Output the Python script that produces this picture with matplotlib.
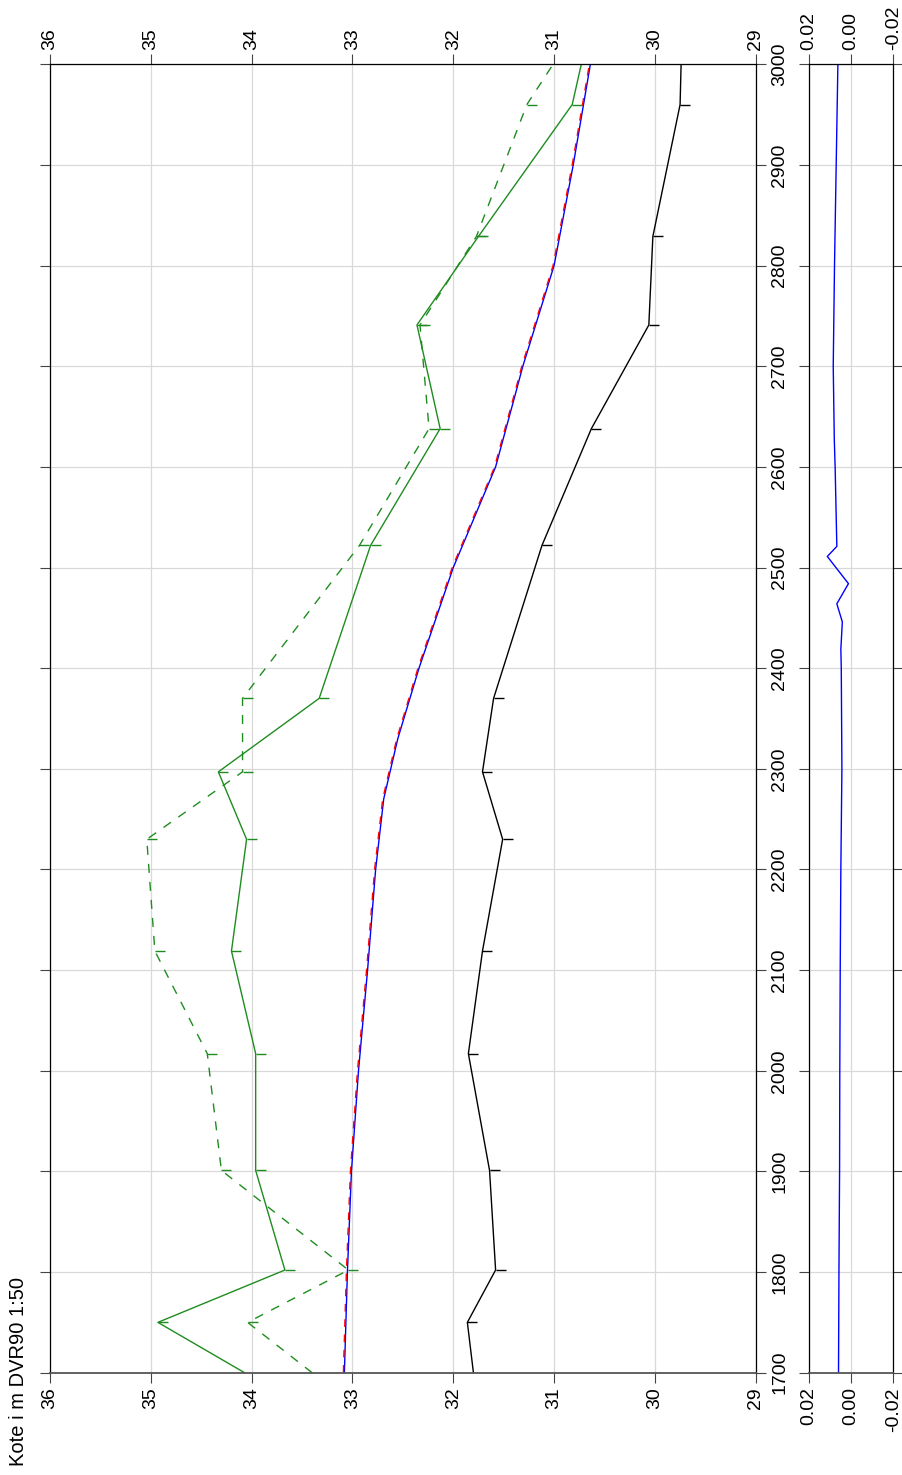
import matplotlib
matplotlib.use('Agg')
import matplotlib.pyplot as plt

plt.rcParams['font.family'] = ['Liberation Sans', 'DejaVu Sans']

# ---------------- data ----------------
stations = [1700, 1750, 1802, 1901, 2017, 2119, 2230, 2297, 2370, 2522, 2638, 2741, 2829, 2960, 3000]
bottom_level = [31.80, 31.86, 31.58, 31.64, 31.85, 31.71, 31.51, 31.71, 31.60, 31.12, 30.63, 30.06, 30.02, 29.75, 29.74]
bank_solid = [34.07, 34.93, 33.67, 33.96, 33.96, 34.20, 34.05, 34.33, 33.33, 32.82, 32.13, 32.36, 31.75, 30.82, 30.73]
bank_dashed = [33.40, 34.04, 33.04, 34.30, 34.44, 34.96, 35.04, 34.09, 34.09, 32.93, 32.24, 32.33, 31.77, 31.27, 31.01]

wl_stations = [1700, 1800, 1900, 2000, 2100, 2200, 2270, 2300, 2330, 2400, 2500, 2600, 2670, 2700, 2800, 2900, 3000]
wl_blue = [33.08, 33.05, 33.01, 32.94, 32.85, 32.77, 32.69, 32.62, 32.55, 32.34, 32.00, 31.58, 31.39, 31.31, 31.00, 30.81, 30.64]
wl_red = [33.09, 33.06, 33.02, 32.95, 32.86, 32.78, 32.70, 32.63, 32.56, 32.35, 32.01, 31.59, 31.40, 31.32, 31.01, 30.82, 30.65]

diff_stations = [1700, 1800, 1900, 2000, 2100, 2200, 2300, 2400, 2419, 2446, 2464, 2484, 2511, 2521, 2600, 2627, 2700, 2800, 2900, 3000]
diff_values = [0.0059, 0.0057, 0.0054, 0.0053, 0.0051, 0.0048, 0.0043, 0.0046, 0.0048, 0.0041, 0.0067, 0.0012, 0.0112, 0.0067, 0.0075, 0.0079, 0.0084, 0.0078, 0.0070, 0.0062]

kote_ticks = [29, 30, 31, 32, 33, 34, 35, 36]
kote_labels = ['29', '30', '31', '32', '33', '34', '35', '36']
station_ticks = list(range(1700, 3001, 100))
station_labels = [str(s) for s in station_ticks]
diff_ticks = [0.02, 0.0, -0.02]
diff_labels = ['0.02', '0.00', '-0.02']
ylabel_text = 'Kote i m DVR90 1:50'

# ---------------- layout ----------------
W, H = 902, 1475
fig = plt.figure(figsize=(W / 100, H / 100), dpi=100)


def fx(px):
    return px / W


def fy(py):
    return 1 - py / H


y_top, y_bot = 64.3, 1372.7
ax = fig.add_axes([fx(50), fy(y_bot), fx(755.7) - fx(50), fy(y_top) - fy(y_bot)])
axd = fig.add_axes([fx(808.7), fy(y_bot), fx(893.3) - fx(808.7), fy(y_top) - fy(y_bot)])

green = '#1f8c1f'
grid_col = '#d9d9d9'
tick_col = '#444444'
LW = 1.0
dash = (6.5, 6.5)
FS = 14

# ---------------- main panel ----------------
ax.plot(bottom_level, stations, color='black', lw=LW, marker=1, markersize=7.2,
        markeredgewidth=1.0, markevery=slice(1, -1))
ax.plot(bank_solid, stations, color=green, lw=LW, marker=1, markersize=7.2,
        markeredgewidth=1.0, markevery=slice(1, -1))
ax.plot(bank_dashed, stations, color=green, lw=LW, dashes=dash, marker=1, markersize=7.2,
        markeredgewidth=1.0, markevery=slice(1, -1))
ax.plot(wl_blue, wl_stations, color='#0000ff', lw=LW)
ax.plot(wl_red, wl_stations, color='#ff0000', lw=LW, dashes=(5.5, 5.5))

ax.set_xlim(36, 29)
ax.set_ylim(1700, 3000)
ax.set_xticks(kote_ticks)
ax.set_xticklabels(kote_labels)
ax.set_yticks(station_ticks)
ax.set_yticklabels(station_labels)
ax.set_axisbelow(True)
ax.grid(True, color=grid_col, lw=0.9)

ax.tick_params(axis='x', which='both', direction='out', length=7.2, width=0.8, color=tick_col,
               top=True, bottom=True, labeltop=True, labelbottom=True, labelsize=FS,
               labelrotation=90, pad=3.4)
ax.tick_params(axis='y', which='both', direction='out', length=7.2, width=0.8, color=tick_col,
               left=True, right=True, labelleft=False, labelright=True, labelsize=FS,
               labelrotation=90, pad=4.0)
for t in ax.yaxis.get_major_ticks():
    t.label2.set_va('center')
for t in ax.xaxis.get_major_ticks():
    t.label1.set_va('top')
    t.label2.set_va('bottom')

for s in ['top', 'left', 'right']:
    ax.spines[s].set_color('black')
    ax.spines[s].set_linewidth(0.9)
ax.spines['bottom'].set_color('#555555')
ax.spines['bottom'].set_linewidth(1.3)

# ---------------- difference panel ----------------
axd.plot(diff_values, diff_stations, color='#0000ff', lw=LW)
axd.set_xlim(0.02, -0.02)
axd.set_ylim(1700, 3000)
axd.set_xticks(diff_ticks)
axd.set_xticklabels(diff_labels)
axd.set_yticks(station_ticks)
axd.set_axisbelow(True)
axd.grid(True, color=grid_col, lw=0.9)
axd.tick_params(axis='x', which='both', direction='out', length=7.2, width=0.8, color=tick_col,
                top=True, bottom=True, labeltop=True, labelbottom=True, labelsize=FS,
                labelrotation=90, pad=3.4)
axd.tick_params(axis='y', which='both', direction='out', length=7.2, width=0.8, color=tick_col,
                left=True, right=True, labelleft=False, labelright=False)
for t in axd.xaxis.get_major_ticks():
    t.label1.set_va('top')
    t.label2.set_va('bottom')
for s in ['top', 'left', 'right']:
    axd.spines[s].set_color('black')
    axd.spines[s].set_linewidth(0.9)
axd.spines['bottom'].set_color('#555555')
axd.spines['bottom'].set_linewidth(1.3)

# ---------------- axis title ----------------
fig.text(fx(19), fy(1466.5), ylabel_text, rotation=90, ha='center', va='bottom', fontsize=14.5)

fig.savefig('out.png', dpi=100)
